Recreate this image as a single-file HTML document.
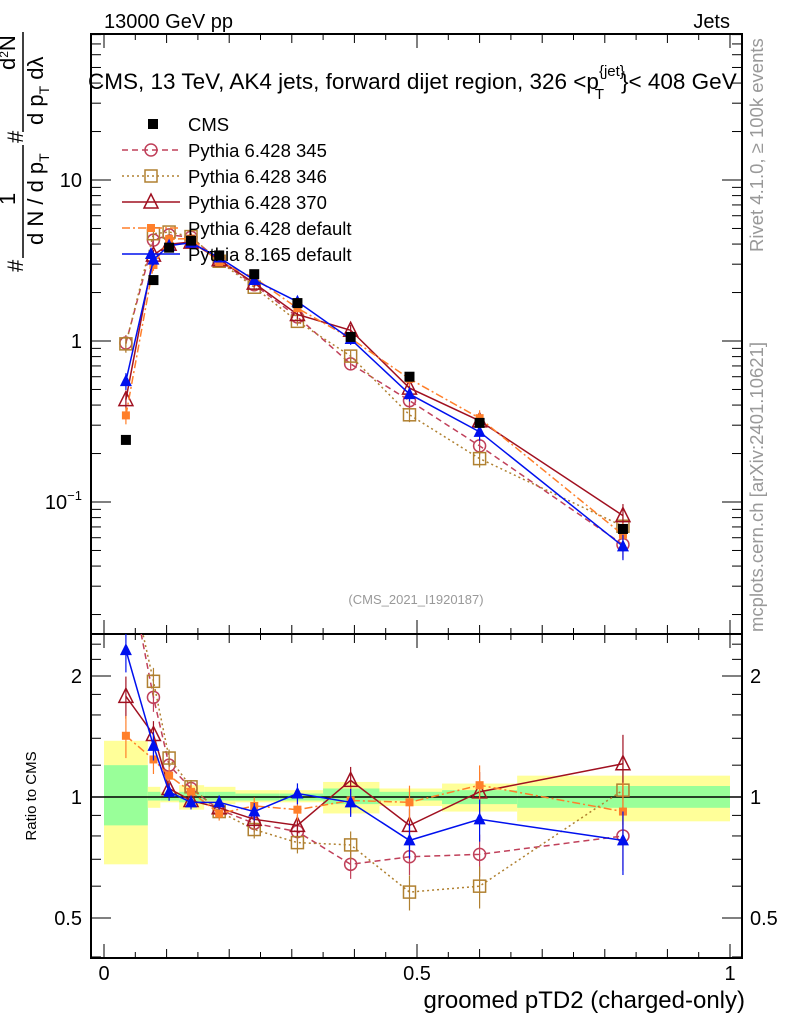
<!DOCTYPE html>
<html><head><meta charset="utf-8"><style>
body{margin:0;background:#fff;}
svg{display:block;font-family:"Liberation Sans",sans-serif;}
</style></head><body>
<svg id="c" width="786" height="1024" viewBox="0 0 786 1024" xmlns="http://www.w3.org/2000/svg">
<text x="104" y="28" font-size="20">13000 GeV pp</text>
<text x="730" y="28" font-size="20" text-anchor="end">Jets</text>
<text x="88" y="89" font-size="22.5">CMS, 13 TeV, AK4 jets, forward dijet region, 326 &lt;p<tspan font-size="15" dy="-13">{jet}</tspan><tspan font-size="15" dx="-30" dy="23">T</tspan><tspan dy="-10" dx="17">}&lt; 408 GeV</tspan></text>
<text x="416" y="604" font-size="13" fill="#999" text-anchor="middle">(CMS_2021_I1920187)</text>
<text transform="translate(763,252) rotate(-90)" font-size="18.5" fill="#999">Rivet 4.1.0, ≥ 100k events</text>
<text transform="translate(763,632) rotate(-90)" font-size="18.5" fill="#999">mcplots.cern.ch [arXiv:2401.10621]</text>
<g font-size="22">
<text transform="translate(23,272) rotate(-90)">#</text>
<text transform="translate(15,205) rotate(-90)">1</text>
<line x1="23" y1="145" x2="23" y2="258" stroke="#000" stroke-width="1.5"/>
<text transform="translate(43,245) rotate(-90)">d N / d p<tspan font-size="14" dy="6">T</tspan></text>
<text transform="translate(23,143) rotate(-90)">#</text>
<text transform="translate(15,70) rotate(-90)">d<tspan font-size="12" dy="-7">2</tspan><tspan dy="7">N</tspan></text>
<line x1="23" y1="32" x2="23" y2="132" stroke="#000" stroke-width="1.5"/>
<text transform="translate(43,125) rotate(-90)">d p<tspan font-size="14" dy="6">T</tspan><tspan dy="-6">  dλ</tspan></text>
</g>
<text transform="translate(36,796) rotate(-90)" font-size="15" text-anchor="middle">Ratio to CMS</text>
<text x="745" y="1008" font-size="24" text-anchor="end">groomed pTD2 (charged-only)</text>
<g id="bands"></g><g id="axes"></g><g id="marks"></g><g id="legend"></g>
</svg>
<script>
const xCenters=[0.035,0.079,0.104,0.139,0.184,0.24,0.309,0.394,0.488,0.6,0.829];
const binEdges=[0,0.07,0.09,0.12,0.16,0.21,0.28,0.35,0.44,0.54,0.66,1.0];
const cmsValues=[0.243,2.39,3.8,4.2,3.4,2.6,1.72,1.06,0.6,0.31,0.068];
const bandYellowLo=[0.68,0.94,0.97,0.93,0.96,0.97,0.97,0.91,0.95,0.92,0.87];
const bandYellowHi=[1.38,1.06,1.03,1.07,1.06,1.04,1.04,1.09,1.05,1.08,1.13];
const bandGreenLo=[0.85,0.98,0.98,0.97,0.98,0.98,0.98,0.96,0.98,0.96,0.94];
const bandGreenHi=[1.2,1.03,1.02,1.03,1.03,1.02,1.02,1.05,1.03,1.04,1.065];
const ratio345=[4.0,1.77,1.2,1.05,0.93,0.86,0.82,0.68,0.71,0.72,0.8];
const ratio346=[3.95,1.94,1.25,1.06,0.92,0.83,0.77,0.76,0.58,0.6,1.04];
const ratio370=[1.78,1.43,1.05,0.98,0.94,0.88,0.85,1.1,0.85,1.03,1.21];
const ratioP6def=[1.42,1.24,1.13,1.03,0.91,0.95,0.93,0.98,0.97,1.07,0.92];
const ratioP8def=[2.32,1.34,1.03,0.97,0.97,0.92,1.02,0.97,0.78,0.88,0.78];
const relErrors=[0.12,0.08,0.05,0.04,0.04,0.05,0.06,0.08,0.1,0.12,0.18];

const NS="http://www.w3.org/2000/svg";
const XL=91,XR=742,MT=34,MB=634,RT=634,RB=958;
function X(v){return 104+v*626;}
function YM(v){return 341-161*Math.log10(v);}
function YR(r){return 797-121*Math.log2(r);}
function mk(tag,attrs,parent){const e=document.createElementNS(NS,tag);for(const k in attrs)e.setAttribute(k,attrs[k]);parent.appendChild(e);return e;}
const bands=document.getElementById('bands'),axes=document.getElementById('axes'),marks=document.getElementById('marks'),legend=document.getElementById('legend');

for(let i=0;i<xCenters.length;i++){
 const x1=X(binEdges[i]),x2=X(binEdges[i+1]);
 const y=mk('rect',{x:x1,y:YR(bandYellowHi[i]),width:x2-x1,height:YR(bandYellowLo[i])-YR(bandYellowHi[i]),fill:'#ffff99'},bands);
 
 
 const g=mk('rect',{x:x1,y:YR(bandGreenHi[i]),width:x2-x1,height:YR(bandGreenLo[i])-YR(bandGreenHi[i]),fill:'#99ff99'},bands);
 
 
}
const f1=mk('rect',{x:XL,y:MT,width:XR-XL,height:MB-MT,fill:'none',stroke:'#000','stroke-width':2},axes);


const f2=mk('rect',{x:XL,y:RT,width:XR-XL,height:RB-RT,fill:'none',stroke:'#000','stroke-width':2},axes);


const ul=mk('line',{x1:XL,x2:XR,y1:YR(1),y2:YR(1),stroke:'#000','stroke-width':1.5},axes);


for(let k=0;k<=20;k++){const v=k*0.05,x=X(v);const L=(k%10==0)?14:(k%2==0?9:6);
 for(const [yb,yt] of [[MB,MT],[RB,RT]]){mk('line',{x1:x,x2:x,y1:yb,y2:yb-L,stroke:'#000'},axes);mk('line',{x1:x,x2:x,y1:yt,y2:yt+L,stroke:'#000'},axes);}}
const xTicks=[0,0.5,1],xTickLabels=['0','0.5','1'];
xTicks.forEach((v,i)=>{const t=mk('text',{x:X(v),y:980,'font-size':20,'text-anchor':'middle'},axes);t.textContent=xTickLabels[i];
 
 });
for(let d=-2;d<=1;d++)for(let m=1;m<=9;m++){const v=m*Math.pow(10,d),y=YM(v);if(y<MT||y>MB)continue;const L=m==1?20:10;
 mk('line',{x1:XL,x2:XL+L,y1:y,y2:y,stroke:'#000'},axes);mk('line',{x1:XR,x2:XR-L,y1:y,y2:y,stroke:'#000'},axes);}
[['10',10],['1',1]].forEach(([s,v])=>{const t=mk('text',{x:82,y:YM(v)+7,'font-size':20,'text-anchor':'end'},axes);t.textContent=s;
 
 });
{const t=mk('text',{x:82,y:YM(0.1)+7,'font-size':20,'text-anchor':'end'},axes);t.innerHTML='10<tspan font-size="13" dy="-9">−1</tspan>';
 
 }
for(const v of [0.4,0.5,0.6,0.7,0.8,0.9,1,1.2,1.4,1.6,1.8,2,2.2,2.4]){const y=YR(v);if(y<RT||y>RB)continue;const L=(v==0.5||v==1||v==2)?20:10;
 mk('line',{x1:XL,x2:XL+L,y1:y,y2:y,stroke:'#000'},axes);mk('line',{x1:XR,x2:XR-L,y1:y,y2:y,stroke:'#000'},axes);}
const ratioTickVals=[2,1,0.5],ratioTickLabels=['2','1','0.5'];
ratioTickVals.forEach((v,i)=>{for(const [x,a] of [[82,'end'],[750,'start']]){const t=mk('text',{x:x,y:YR(v)+7,'font-size':20,'text-anchor':a},axes);t.textContent=ratioTickLabels[i];
 
 }});

function marker(g,type,x,y,col){
 if(type=='sqf')mk('rect',{x:x-5,y:y-5,width:10,height:10,fill:col},g);
 else if(type=='sqfs')mk('rect',{x:x-4,y:y-4,width:8,height:8,fill:col},g);
 else if(type=='sqo')mk('rect',{x:x-6,y:y-6,width:12,height:12,fill:'none',stroke:col,'stroke-width':1.5},g);
 else if(type=='circ')mk('circle',{cx:x,cy:y,r:6,fill:'none',stroke:col,'stroke-width':1.5},g);
 else if(type=='tri')mk('polygon',{points:`${x},${y-8} ${x-7},${y+6} ${x+7},${y+6}`,fill:'none',stroke:col,'stroke-width':1.5},g);
 else if(type=='trif')mk('polygon',{points:`${x},${y-7} ${x-6},${y+5} ${x+6},${y+5}`,fill:col},g);
}
const series=[
 {name:'Pythia 6.428 345',r:ratio345,col:'#c0405a',dash:'6,4',m:'circ',id:'series-pythia6-345'},
 {name:'Pythia 6.428 346',r:ratio346,col:'#b08030',dash:'2,3',m:'sqo',id:'series-pythia6-346'},
 {name:'Pythia 6.428 370',r:ratio370,col:'#a01020',dash:'',m:'tri',id:'series-pythia6-370'},
 {name:'Pythia 6.428 default',r:ratioP6def,col:'#ff7f2a',dash:'8,3,2,3',m:'sqfs',id:'series-pythia6-default'},
 {name:'Pythia 8.165 default',r:ratioP8def,col:'#0010ee',dash:'',m:'trif',id:'series-pythia8-default'}];
function clipR(y){return Math.max(RT,Math.min(RB,y));}
series.forEach(s=>{
 const g=mk('g',{},marks);
 
 
 const pm=[],pr=[];
 xCenters.forEach((xv,i)=>{const v=cmsValues[i]*s.r[i];pm.push(X(xv)+','+YM(v));pr.push(X(xv)+','+YR(s.r[i]));});
 mk('polyline',{points:pm.join(' '),fill:'none',stroke:s.col,'stroke-width':1.5,'stroke-dasharray':s.dash},g);
 const cp=mk('clipPath',{id:'cp'+s.id},g);mk('rect',{x:XL,y:RT,width:XR-XL,height:RB-RT},cp);
 mk('polyline',{points:pr.join(' '),fill:'none',stroke:s.col,'stroke-width':1.5,'stroke-dasharray':s.dash,'clip-path':`url(#cp${s.id})`},g);
 xCenters.forEach((xv,i)=>{const x=X(xv),r=s.r[i],v=cmsValues[i]*r,e=relErrors[i];
  mk('line',{x1:x,x2:x,y1:YM(v*(1+e)),y2:YM(v*(1-e)),stroke:s.col,'stroke-width':1.2},g);
  marker(g,s.m,x,YM(v),s.col);
  if(YR(r)>=RT){mk('line',{x1:x,x2:x,y1:clipR(YR(r*(1+e))),y2:clipR(YR(r*(1-e))),stroke:s.col,'stroke-width':1.2},g);marker(g,s.m,x,YR(r),s.col);}
 });
});
{const g=mk('g',{},marks);
 
 
 xCenters.forEach((xv,i)=>marker(g,'sqf',X(xv),YM(cmsValues[i]),'#000'));}
const legNames=['CMS'].concat(series.map(s=>s.name));
legNames.forEach((n,i)=>{const y=124+i*26;const g=mk('g',{},legend);
 
 
 if(i==0)marker(g,'sqf',153,y,'#000');else{const s=series[i-1];mk('line',{x1:122,x2:180,y1:y,y2:y,stroke:s.col,'stroke-width':1.5,'stroke-dasharray':s.dash},g);marker(g,s.m,151,y,s.col);}
 const t=mk('text',{x:188,y:y+7,'font-size':18.5},g);t.textContent=n;});
</script>
</body></html>
